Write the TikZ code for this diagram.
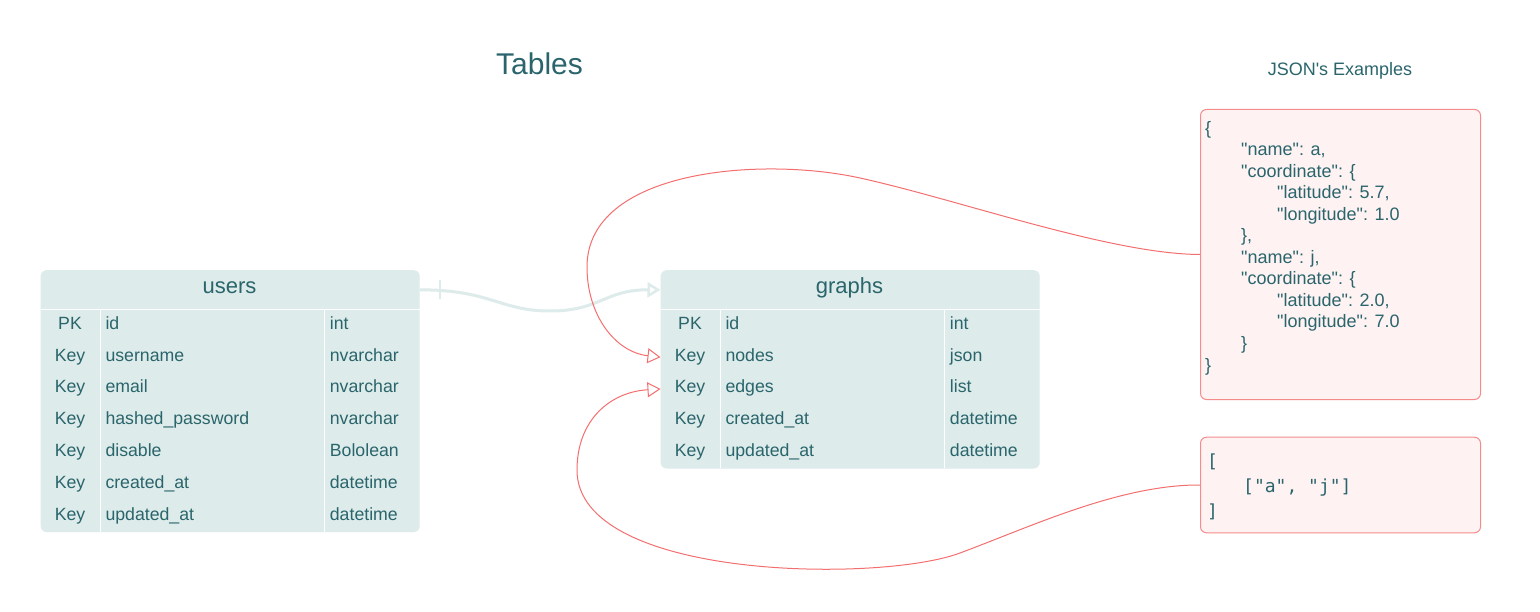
\documentclass[tikz,border=0pt]{standalone}
\usepackage{fontspec}
\setmainfont{Liberation Sans}
\newfontfamily\monof{DejaVu Sans Mono}
\usetikzlibrary{arrows.meta}
\newcommand\dq{\textquotedbl}
\definecolor{ink}{HTML}{2A656C}
\definecolor{tblfill}{HTML}{DDEBEA}
\definecolor{redline}{HTML}{F36F6F}
\definecolor{redfill}{HTML}{FEF2F2}
\definecolor{redborder}{HTML}{F48C8C}
\tikzset{
  tablebox/.style={fill=tblfill, rounded corners=6pt, inner sep=0pt, minimum width=379pt, draw=none},
  rowbox/.style={inner sep=0pt, minimum width=379pt, minimum height=31.8pt, draw=none},
  hdrbox/.style={inner sep=0pt, minimum width=379pt, minimum height=39.3pt, draw=none},
  cell/.style={inner sep=0pt, text=ink, font=\fontsize{17.7}{20}\selectfont},
  hdrtxt/.style={inner sep=0pt, text=ink, font=\fontsize{22}{26}\selectfont, anchor=base},
  divider/.style={white, line width=1.5pt},
  jsonbox/.style={draw=redborder, fill=redfill, rounded corners=6pt, line width=1pt, minimum width=280pt, inner sep=0pt},
  jtxt/.style={inner sep=0pt, text=ink, font=\fontsize{18}{21.5}\selectfont, anchor=base west},
  mtxt/.style={inner sep=0pt, text=ink, font=\monof\fontsize{18}{25}\selectfont, anchor=base west},
  titletxt/.style={inner sep=0pt, text=ink, anchor=base},
  relink/.style={draw=tblfill, line width=3pt, -{Triangle[open, length=13pt, width=15pt, line width=2.5pt]}},
  reltick/.style={draw=tblfill, line width=2.5pt},
  redlink/.style={draw=redline, line width=1pt, -{Triangle[open, length=13pt, width=15pt]}}
}
\begin{document}
\begin{tikzpicture}[x=1pt, y=-1pt]
\useasboundingbox[fill=white] (0,0) rectangle (1540,612);

% titles
\node[titletxt, font=\fontsize{30}{34}\selectfont] (title) at (539.5,75) {Tables};
\node[titletxt, font=\fontsize{18}{21}\selectfont] (jsontitle) at (1340,76) {JSON\textquotesingle s Examples};

% users table
\node[tablebox, minimum height=261.9pt, anchor=north west] (users) at (40.5,270) {};
\node[hdrbox, anchor=north west] (users-h) at (40.5,270) {};
\foreach \i in {1,...,7} {
  \node[rowbox, anchor=north west] (users-r\i) at (40.5,{309.3+31.8*(\i-1)}) {};
}
\draw[divider] (users-h.south west) -- (users-h.south east);
\draw[divider] (100.5,309.3) -- (100.5,531.9);
\draw[divider] (324.5,309.3) -- (324.5,531.9);
\node[hdrtxt] (users-t) at (229.5,293.5) {users};
\foreach \k/\n/\t [count=\i] in {PK/id/int, Key/username/nvarchar, Key/email/nvarchar, Key/hashed\_password/nvarchar, Key/disable/Bololean, Key/created\_at/datetime, Key/updated\_at/datetime} {
  \node[cell, anchor=base] (users-k\i) at (70,{329.3+31.8*(\i-1)}) {\k};
  \node[cell, anchor=base west] (users-n\i) at (105.3,{329.3+31.8*(\i-1)}) {\n};
  \node[cell, anchor=base west] (users-y\i) at (329.7,{329.3+31.8*(\i-1)}) {\t};
}

% graphs table
\node[tablebox, minimum height=198.3pt, anchor=north west] (graphs) at (660.5,270) {};
\node[hdrbox, anchor=north west] (graphs-h) at (660.5,270) {};
\foreach \i in {1,...,5} {
  \node[rowbox, anchor=north west] (graphs-r\i) at (660.5,{309.3+31.8*(\i-1)}) {};
}
\draw[divider] (graphs-h.south west) -- (graphs-h.south east);
\draw[divider] (720.5,309.3) -- (720.5,468.3);
\draw[divider] (944.5,309.3) -- (944.5,468.3);
\node[hdrtxt] (graphs-t) at (849.5,293.5) {graphs};
\foreach \k/\n/\t [count=\i] in {PK/id/int, Key/nodes/json, Key/edges/list, Key/created\_at/datetime, Key/updated\_at/datetime} {
  \node[cell, anchor=base] (graphs-k\i) at (690,{329.3+31.8*(\i-1)}) {\k};
  \node[cell, anchor=base west] (graphs-n\i) at (725.3,{329.3+31.8*(\i-1)}) {\n};
  \node[cell, anchor=base west] (graphs-y\i) at (949.7,{329.3+31.8*(\i-1)}) {\t};
}

% JSON example boxes
\node[jsonbox, minimum height=290pt, anchor=north west] (json1) at (1200,109) {};
\node[jtxt] (j1) at (1205,134.5) {\{};
\node[jtxt] (j2) at (1241,156) {\dq name\dq: a,};
\node[jtxt] (j3) at (1241,177.5) {\dq coordinate\dq: \{};
\node[jtxt] (j4) at (1277,199) {\dq latitude\dq: 5.7,};
\node[jtxt] (j5) at (1277,220.5) {\dq longitude\dq: 1.0};
\node[jtxt] (j6) at (1241,242) {\},};
\node[jtxt] (j7) at (1241,263.5) {\dq name\dq: j,};
\node[jtxt] (j8) at (1241,285) {\dq coordinate\dq: \{};
\node[jtxt] (j9) at (1277,306.5) {\dq latitude\dq: 2.0,};
\node[jtxt] (j10) at (1277,328) {\dq longitude\dq: 7.0};
\node[jtxt] (j11) at (1241,349.5) {\}};
\node[jtxt] (j12) at (1205,371) {\}};

\node[jsonbox, minimum height=95.6pt, anchor=north west] (json2) at (1200,436.7) {};
\node[mtxt] (m1) at (1207,467) {[};
\node[mtxt] (m2) at (1243,492) {[\dq a\dq, \dq j\dq]};
\node[mtxt] (m3) at (1207,517) {]};

% connectors
\draw[relink] (users-h.east) .. controls (490,289.6) and (500,311) .. (550,311)
  .. controls (600,311) and (605,289.6) .. (graphs-h.west);
\draw[reltick] ([xshift=20pt,yshift=9.5pt]users-h.east) -- ([xshift=20pt,yshift=-9.5pt]users-h.east);

\draw[redlink] (json1.west) .. controls (1110,254) and (960,200) .. (860,178)
  .. controls (760,156) and (587,170) .. (587,267)
  .. controls (587,315) and (615,352) .. (graphs-r2.west);

\draw[redlink] (json2.west) .. controls (1120,484.5) and (1030,527) .. (960,553)
  .. controls (880,583) and (577,580) .. (577,470)
  .. controls (577,420) and (610,392) .. (graphs-r3.west);
\end{tikzpicture}
\end{document}
